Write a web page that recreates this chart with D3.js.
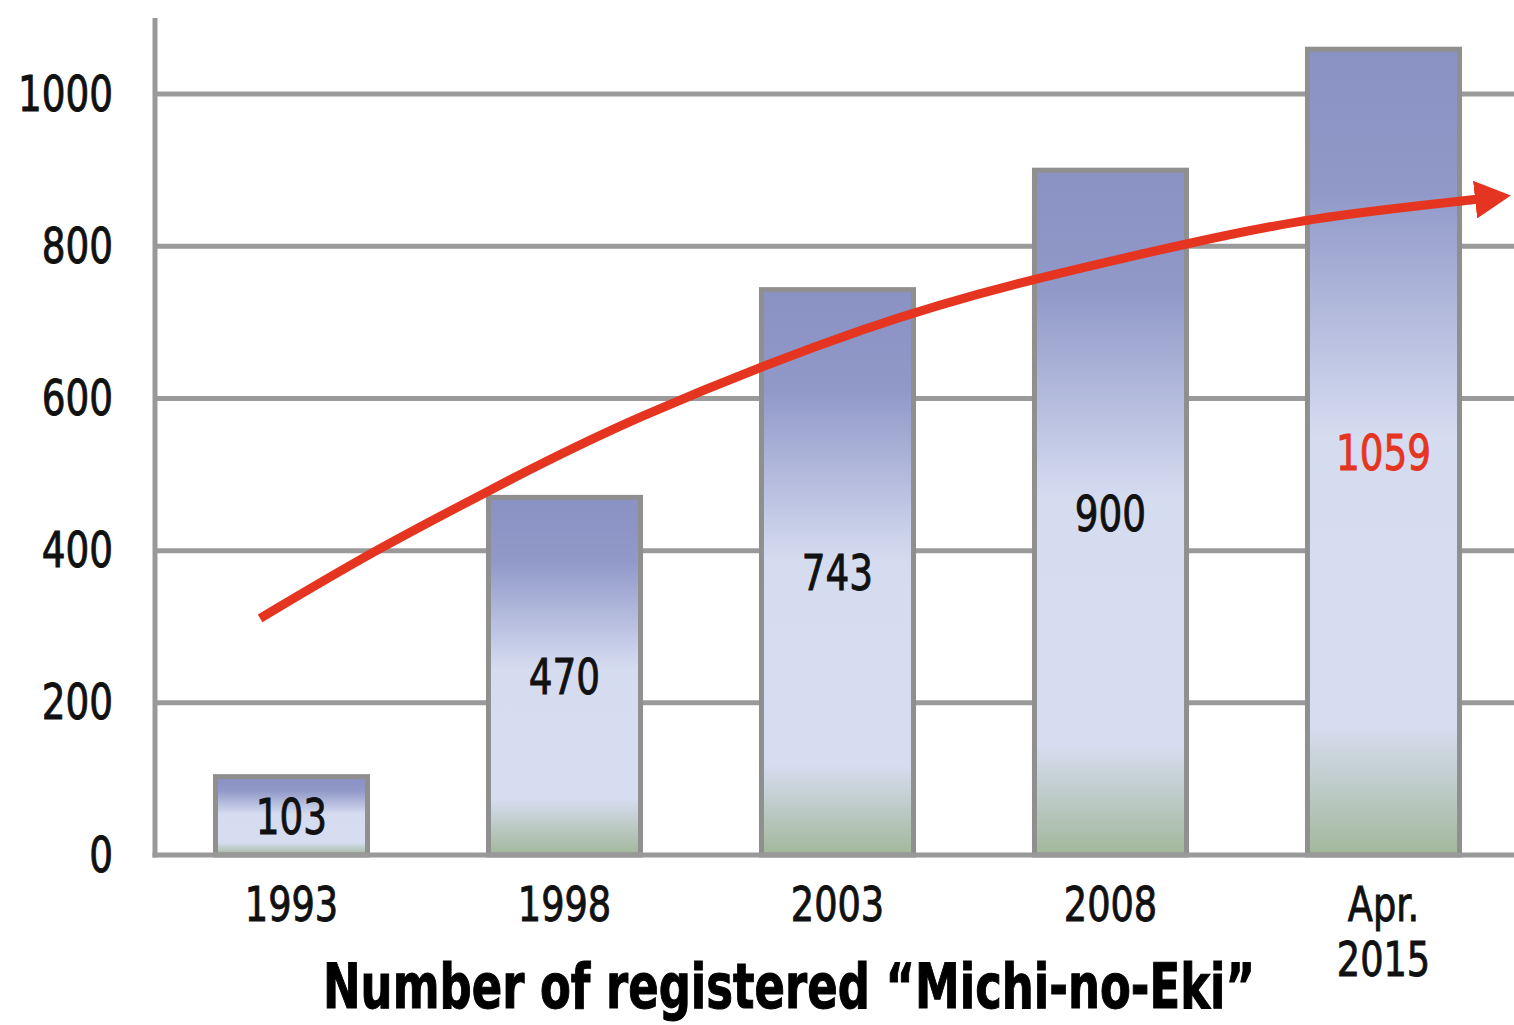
<html>
<script src='https://d3js.org/d3.v7.min.js'></script>
<style>
  body {margin: 0; background: #fff;}
  text {font-family: 'DejaVu Sans Condensed', 'Liberation Sans Narrow', sans-serif;}
</style>
<body onload='init()'>
<svg width=1514 height=1025></svg>
<script>
var categories = ["1993", "1998", "2003", "2008", "Apr.\n2015"];
var counts = [103, 470, 743, 900, 1059];
var yTicks = [0, 200, 400, 600, 800, 1000];
// trend arrow, as [category position, value]
var trend = [[-0.115, 311], [0.297, 399], [0.714, 477], [1.212, 570], [2.154, 703],
             [2.714, 757], [3.286, 804], [3.714, 837], [4.35, 862]];

// narrow the default condensed face down to the look of the original
function squeeze(sel, f) {
  sel.each(function() {
    var w = this.getComputedTextLength();
    d3.select(this).attr("textLength", w * f).attr("lengthAdjust", "spacingAndGlyphs");
  });
}

function init() {
  var svg = d3.select("svg");
  var x_scale = d3.scaleBand().domain(d3.range(categories.length))
                  .range([155, 1520]).paddingInner(0.443).paddingOuter(0.2215);
  var y_scale = d3.scaleLinear().domain([0, 1100]).range([855, 18]);
  var pos = d3.scaleLinear().domain([0, 1])
              .range([x_scale(0) + x_scale.bandwidth() / 2, x_scale(1) + x_scale.bandwidth() / 2]);

  var defs = svg.append("defs");
  var grad = defs.append("linearGradient").attr("id", "barfill")
                 .attr("x1", 0).attr("y1", 0).attr("x2", 0).attr("y2", 1);
  [[0, "#8a91c3"], [0.18, "#9199c9"], [0.48, "#d5dcf0"], [0.84, "#d6ddf0"], [1, "#a2b79b"]]
    .forEach(function(s) { grad.append("stop").attr("offset", s[0]).attr("stop-color", s[1]); });
  defs.append("marker").attr("id", "head").attr("markerUnits", "userSpaceOnUse")
      .attr("viewBox", "0 0 36 38").attr("markerWidth", 36).attr("markerHeight", 38)
      .attr("refX", 4).attr("refY", 19).attr("orient", "auto")
      .append("path").attr("d", "M0,0 L36,19 L0,38 Z").attr("fill", "#e5341f");

  // gridlines
  svg.append("g").selectAll("line").data(yTicks.slice(1)).enter().append("line")
     .attr("x1", 155).attr("x2", 1514)
     .attr("y1", function(d) { return y_scale(d); }).attr("y2", function(d) { return y_scale(d); })
     .attr("stroke", "#9a9a9a").attr("stroke-width", 5);

  // y axis
  var y_axis = d3.axisLeft(y_scale).tickValues(yTicks).tickFormat(d3.format("d"))
                 .tickSize(0).tickPadding(42);
  var ya = svg.append("g").attr("transform", "translate(155,0)").call(y_axis);
  ya.select(".domain").remove();
  ya.selectAll("text").attr("font-size", 50).style("fill", "#111")
    .style("stroke", "#111").style("stroke-width", 0.9);
  squeeze(ya.selectAll("text"), 0.83);

  // bars
  svg.append("g").selectAll("rect").data(counts).enter().append("rect")
     .attr("x", function(d, i) { return x_scale(i); })
     .attr("y", function(d) { return y_scale(d); })
     .attr("width", x_scale.bandwidth())
     .attr("height", function(d) { return y_scale(0) - y_scale(d); })
     .attr("fill", "url(#barfill)").attr("stroke", "#8f8f8f").attr("stroke-width", 5);

  // axis lines
  svg.append("line").attr("x1", 155).attr("x2", 155).attr("y1", y_scale(1100)).attr("y2", y_scale(0) + 2.5)
     .attr("stroke", "#999").attr("stroke-width", 5);
  svg.append("line").attr("x1", 152.5).attr("x2", 1514).attr("y1", y_scale(0)).attr("y2", y_scale(0))
     .attr("stroke", "#999").attr("stroke-width", 5);

  // value labels
  var vl = svg.append("g").selectAll("text").data(counts).enter().append("text")
     .attr("x", function(d, i) { return x_scale(i) + x_scale.bandwidth() / 2; })
     .attr("y", function(d) { return y_scale(d / 2); })
     .attr("dy", "0.36em").attr("text-anchor", "middle").attr("font-size", 50)
     .style("fill", function(d, i) { return i == counts.length - 1 ? "#e5341f" : "#111"; })
     .style("stroke", function(d, i) { return i == counts.length - 1 ? "#e5341f" : "#111"; })
     .style("stroke-width", 0.9)
     .text(function(d) { return d; });
  squeeze(vl, 0.83);

  // category labels, one text per line
  var lines = [];
  categories.forEach(function(c, i) {
    c.split("\n").forEach(function(s, k) { lines.push({i: i, k: k, s: s}); });
  });
  var cl = svg.append("g").selectAll("text").data(lines).enter().append("text")
     .attr("x", function(d) { return x_scale(d.i) + x_scale.bandwidth() / 2; })
     .attr("y", function(d) { return 921 + d.k * 55; })
     .attr("text-anchor", "middle").attr("font-size", 48).style("fill", "#111")
     .style("stroke", "#111").style("stroke-width", 0.9)
     .text(function(d) { return d.s; });
  squeeze(cl, 0.85);

  // trend arrow
  var line = d3.line().curve(d3.curveBasis)
     .x(function(d) { return pos(d[0]); }).y(function(d) { return y_scale(d[1]); });
  svg.append("path").datum(trend).attr("d", line).attr("fill", "none")
     .attr("stroke", "#e5341f").attr("stroke-width", 9).attr("marker-end", "url(#head)");

  // title
  svg.append("text").attr("x", 789).attr("y", 1008).attr("text-anchor", "middle")
     .attr("font-size", 62).attr("font-weight", "bold").style("fill", "#000")
     .style("stroke", "#000").style("stroke-width", 1)
     .attr("textLength", 932).attr("lengthAdjust", "spacingAndGlyphs")
     .text("Number of registered \u201cMichi-no-Eki\u201d");
}
</script>
</body>
</html>
